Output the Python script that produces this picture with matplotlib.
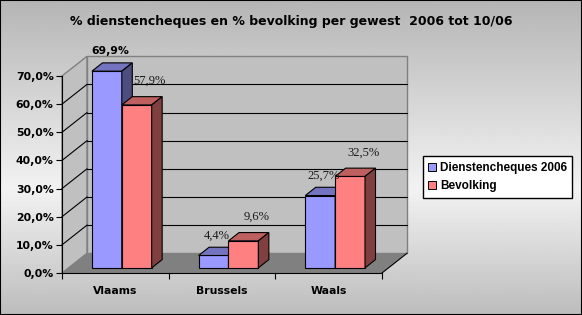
import numpy as np
import matplotlib
matplotlib.use("Agg")
import matplotlib.pyplot as plt
from matplotlib.patches import Polygon, Rectangle
from matplotlib.lines import Line2D

# data
regions = ["Vlaams", "Brussels", "Waals"]
dienstencheques = [69.9, 4.4, 25.7]
bevolking = [57.9, 9.6, 32.5]
series_names = ["Dienstencheques 2006", "Bevolking"]
ytick_vals = [0, 10, 20, 30, 40, 50, 60, 70]
ytick_labels = ["0,0%", "10,0%", "20,0%", "30,0%", "40,0%", "50,0%", "60,0%", "70,0%"]
title = "% dienstencheques en % bevolking per gewest  2006 tot 10/06"

# colours (front, top, side)
blue = ("#9999ff", "#7373bf", "#4d4d80")
red = ("#ff8080", "#bf6060", "#804040")

W, H = 582, 315
fig = plt.figure(figsize=(W / 100, H / 100), dpi=100)

# grey gradient background
bg = fig.add_axes([0, 0, 1, 1], zorder=-5)
yy = np.linspace(0, 1, 200)
shade = np.interp(yy, [0, 0.6, 1.0], [0.71, 0.95, 0.74])
bg.imshow(np.repeat(shade[:, None], 2, axis=1), cmap="gray", vmin=0, vmax=1,
          aspect="auto", extent=[0, 1, 0, 1], origin="upper")
bg.set_axis_off()
fig.patches.append(Rectangle((0, 0), 1, 1, transform=fig.transFigure,
                             fill=False, edgecolor="black", lw=1.5))

# front plane of the chart
ax = fig.add_axes([62 / W, (H - 273) / H, 320 / W, 197 / H])
ax.set_xlim(-0.5, 2.5)
ax.set_ylim(0, 70)
ax.patch.set_visible(False)

DX, DY = 0.234, 7.0          # full depth offset in data units
f0, fb = 0.26, 0.42          # bar start depth / bar depth (fractions)
bw = 0.28

# walls and floor
x0, x1 = -0.5, 2.5
ax.add_patch(Rectangle((x0 + DX, DY), 3, 70, facecolor="#c0c0c0",
                       edgecolor="#808080", lw=1, clip_on=False, zorder=0))
ax.add_patch(Polygon([(x0, 0), (x0 + DX, DY), (x0 + DX, 70 + DY), (x0, 70)],
                     facecolor="#c0c0c0", edgecolor="#808080", lw=1,
                     clip_on=False, zorder=0))
for t in ytick_vals[1:-1]:
    ax.plot([x0 + DX, x1 + DX], [t + DY, t + DY], color="black", lw=0.8,
            clip_on=False, zorder=1)
    ax.plot([x0, x0 + DX], [t, t + DY], color="black", lw=0.8,
            clip_on=False, zorder=1)
ax.add_patch(Polygon([(x0, 0), (x1, 0), (x1 + DX, DY), (x0 + DX, DY)],
                     facecolor="#808080", edgecolor="none", clip_on=False, zorder=1))
ax.plot([x1, x1 + DX], [0, DY], color="black", lw=0.8, clip_on=False, zorder=1)

# 3d bars
xs = np.arange(len(regions))
sx, sy = f0 * DX, f0 * DY
bx, by = fb * DX, fb * DY
z = 3
for i in xs:
    for vals, col, side in ((dienstencheques, blue, -1), (bevolking, red, 0)):
        v = vals[i]
        left = i + sx + side * bw
        ax.bar(left, v, width=bw, bottom=sy, align="edge", color=col[0],
               edgecolor="black", lw=0.8, clip_on=False, zorder=z)
        top = sy + v
        ax.add_patch(Polygon([(left, top), (left + bw, top),
                              (left + bw + bx, top + by), (left + bx, top + by)],
                             facecolor=col[1], edgecolor="black", lw=0.8,
                             clip_on=False, zorder=z))
        ax.add_patch(Polygon([(left + bw, sy), (left + bw, top),
                              (left + bw + bx, top + by), (left + bw + bx, sy + by)],
                             facecolor=col[2], edgecolor="black", lw=0.8,
                             clip_on=False, zorder=z))
        z += 1

# data labels
for i in xs:
    for vals, side, off in ((dienstencheques, -1, (3, 20)), (bevolking, 0, (13, 24))):
        v = vals[i]
        cx = i + sx + side * bw + bw / 2
        txt = f"{v:.1f}%".replace(".", ",")
        if side == -1 and i == 0:
            kw = dict(family="DejaVu Sans", weight="bold", fontsize=7.8, color="black")
        else:
            kw = dict(family="Liberation Serif", fontsize=9, color="#1a1a1a")
        ax.annotate(txt, (cx, sy + v), xytext=off, textcoords="offset pixels",
                    ha="center", va="center", annotation_clip=False, zorder=20, **kw)

# axes styling
for s in ("top", "right"):
    ax.spines[s].set_visible(False)
ax.spines["left"].set_color("black")
ax.spines["bottom"].set_color("black")
ax.spines["left"].set_zorder(2)
ax.set_yticks(ytick_vals)
ax.set_yticklabels(ytick_labels, fontsize=7.8, fontweight="bold")
ax.tick_params(axis="y", length=4, width=0.8, pad=2)
ax.set_xticks(xs)
ax.set_xticklabels(regions, fontsize=7.8, fontweight="bold")
ax.tick_params(axis="x", which="major", length=0, pad=9)
ax.set_xticks([-0.5, 0.5, 1.5, 2.5], minor=True)
ax.tick_params(axis="x", which="minor", length=4, width=0.8)

fig.text(0.5, 1 - 22 / H, title, ha="center", va="center",
         fontsize=9, fontweight="bold")

handles = [Line2D([], [], ls="none", marker="s", markersize=6,
                  markerfacecolor=blue[0], markeredgecolor="black", markeredgewidth=0.7),
           Line2D([], [], ls="none", marker="s", markersize=6,
                  markerfacecolor=red[0], markeredgecolor="black", markeredgewidth=0.7)]
leg = fig.legend(handles, series_names, loc="center left",
                 bbox_to_anchor=(423 / W, 1 - 177 / H), frameon=True,
                 fancybox=False, framealpha=1, edgecolor="black",
                 prop=dict(family="Liberation Sans", weight="bold", size=8.5),
                 handlelength=0.7, handletextpad=0.3, borderpad=0.45,
                 labelspacing=0.55, borderaxespad=0)
leg.get_frame().set_linewidth(1)

fig.savefig("out.png", dpi=100)
